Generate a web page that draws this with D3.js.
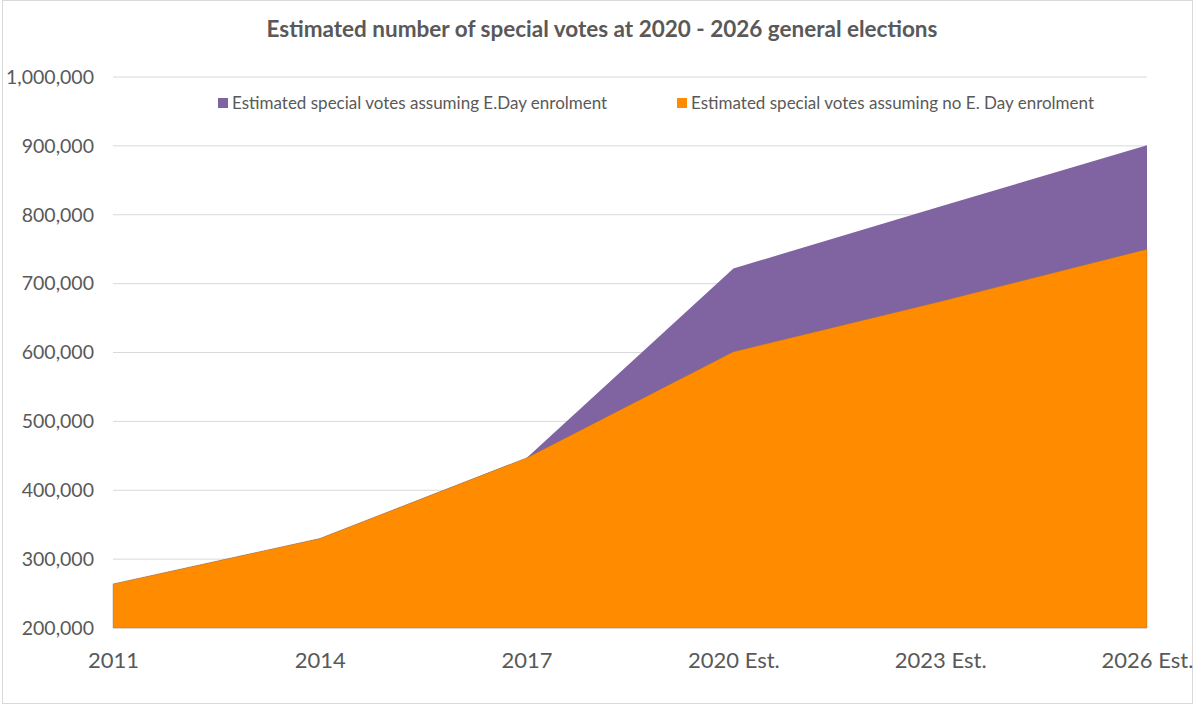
<!DOCTYPE html>
<html><head><meta charset="utf-8">
<script src="https://cdn.jsdelivr.net/npm/d3@7"></script>
<style>body{margin:0;background:#fff}svg{display:block}text{font-family:Lato,"Open Sans",sans-serif}</style>
</head><body>
<svg id="c" width="1195" height="705"></svg>
<script>
const categories = ["2011","2014","2017","2020 Est.","2023 Est.","2026 Est."];
const eDayValues = [264000, 330000, 447000, 722000, 812000, 901000];
const noEDayValues = [264000, 330000, 447000, 601000, 674000, 750000];
const yTicks = [200000,300000,400000,500000,600000,700000,800000,900000,1000000];
const seriesNames = ["Estimated special votes assuming E.Day enrolment","Estimated special votes assuming no E. Day enrolment"];
const colors = ["#8064A2","#FF8C00"];

const svg = d3.select("#c");
svg.append("rect").attr("x",2.5).attr("y",0.5).attr("width",1190).attr("height",703)
  .attr("fill","none").attr("stroke","#d9d9d9");

const x = d3.scalePoint().domain(categories).range([113,1147]);
const y = d3.scaleLinear().domain([200000,1000000]).range([628,77]);

svg.append("text").attr("x",602).attr("y",37).attr("text-anchor","middle")
  .attr("font-size",22.5).attr("font-weight","bold").attr("fill","#595959")
  .text("Estimated number of special votes at 2020 - 2026 general elections");

const grid = svg.append("g");
grid.selectAll("line").data(yTicks).join("line")
  .attr("x1",113).attr("x2",1147).attr("y1",d=>y(d)).attr("y2",d=>y(d))
  .attr("stroke","#d9d9d9").attr("stroke-width",1);

const yAxis = svg.append("g").attr("transform","translate(113,0)")
  .call(d3.axisLeft(y).tickValues(yTicks).tickFormat(d3.format(",")).tickSize(0).tickPadding(19));
yAxis.select(".domain").remove();
yAxis.selectAll("text").attr("font-size",19.5).attr("fill","#595959").attr("font-family","Lato,'Open Sans',sans-serif");

const area = vals => d3.area().x((d,i)=>x(categories[i])).y0(y(200000)).y1(d=>y(d))(vals);
svg.append("path").attr("d",area(eDayValues)).attr("fill",colors[0]);
svg.append("path").attr("d",area(noEDayValues)).attr("fill",colors[1])
  .attr("stroke","#8a6a50").attr("stroke-width",0.6).attr("stroke-opacity",0.6);

const xAxis = svg.append("g").attr("transform","translate(0,628)")
  .call(d3.axisBottom(x).tickSize(0).tickPadding(24));
xAxis.select(".domain").remove();
xAxis.selectAll("text").attr("font-size",22).attr("fill","#595959").attr("font-family","Lato,'Open Sans',sans-serif");

const legX = [218, 677];
const leg = svg.append("g");
seriesNames.forEach((n,i)=>{
  leg.append("rect").attr("x",legX[i]).attr("y",98).attr("width",10).attr("height",10).attr("fill",colors[i]);
  leg.append("text").attr("x",legX[i]+14).attr("y",109).attr("font-size",17).attr("fill","#595959").text(n);
});
</script>
</body></html>
